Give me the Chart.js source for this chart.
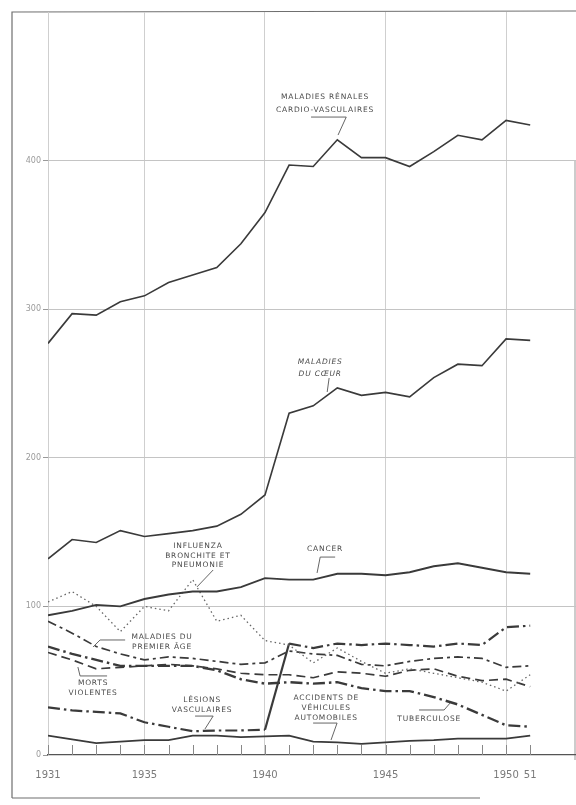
<!DOCTYPE html>
<html>
<head>
<meta charset="utf-8">
<script src="https://cdn.jsdelivr.net/npm/chart.js@4/dist/chart.umd.min.js"></script>
<style>
html,body{margin:0;padding:0;background:#fff;}
#wrap{width:576px;height:805px;position:relative;}
</style>
</head>
<body>
<div id="wrap"><canvas id="c"></canvas></div>
<script>
// ---- data ----
const years = [1931,1932,1933,1934,1935,1936,1937,1938,1939,1940,1941,1942,1943,1944,1945,1946,1947,1948,1949,1950,1951];
const renales      = [277,297,296,305,309,318,323,328,344,365,397,396,414,402,402,396,406,417,414,427,424];
const coeur        = [132,145,143,151,147,149,151,154,162,175,230,235,247,242,244,241,254,263,262,280,279];
const cancer       = [94,97,101,100,105,108,110,110,113,119,118,118,122,122,121,123,127,129,126,123,122];
const influenza    = [103,110,100,83,100,97,118,90,94,77,74,62,72,63,55,58,55,52,49,43,54];
const premierAge   = [90,82,73,68,64,66,65,63,61,62,70,68,67,61,60,63,65,66,65,59,60];
const mortsViol    = [69,64,58,59,60,61,60,58,55,54,54,52,56,55,53,57,58,53,50,51,46];
const tuberculose  = [73,68,64,60,60,60,60,57,51,48,49,48,49,45,43,43,39,34,27,20,19];
const lesions      = [32,30,29,28,22,19,16,16.5,16.5,17,75,72,75,74,75,74,73,75,74,86,87];
const accidents    = [13,10.5,8,9,10,10,13,13,12,12.5,13,9,8.5,7.5,8.5,9.5,10,11,11,11,13];

const yTicks = [0,100,200,300,400];
const xGridYears = [1931,1935,1940,1945,1950];
const xLabels = {1931:'1931',1935:'1935',1940:'1940',1945:'1945',1950:'1950',1951:'51'};

// annotation texts (anchored in data coordinates)
const notes = [
  {x:1942.49, y:442.8, lh:13, lines:['MALADIES RÉNALES','CARDIO-VASCULAIRES'], lead:[[1941.91,429.3],[1943.37,429.3],[1943.03,417.2]]},
  {x:1942.29, y:264.5, lh:12, italic:true, lines:['MALADIES','DU CŒUR'], lead:[[1942.66,253.7],[1942.58,244.3]]},
  {x:1937.22, y:140.6, lh:9.5, lines:['INFLUENZA','BRONCHITE ET','PNEUMONIE'], lead:[[1937.85,124.5],[1937.18,113.1]]},
  {x:1942.49, y:138.6, lh:10, lines:['CANCER'], lead:[[1942.91,133.2],[1942.29,133.2],[1942.16,122.5]]},
  {x:1935.73, y:79.4, lh:10, lines:['MALADIES DU','PREMIER ÂGE'], lead:[[1934.20,77.4],[1933.16,77.4],[1932.87,72.7]]},
  {x:1932.87, y:48.5, lh:10, lines:['MORTS','VIOLENTES'], lead:[[1933.45,53.2],[1932.33,53.2],[1932.24,59.2]]},
  {x:1937.39, y:37.0, lh:10, lines:['LÉSIONS','VASCULAIRES'], lead:[[1937.10,26.2],[1937.85,26.2],[1937.51,17.5]]},
  {x:1942.54, y:38.4, lh:10, lines:['ACCIDENTS DE','VÉHICULES','AUTOMOBILES'], lead:[[1941.996,21.5],[1942.99,21.5],[1942.74,10.1]]},
  {x:1946.81, y:24.2, lh:10, lines:['TUBERCULOSE'], lead:[[1946.39,30.3],[1947.43,30.3],[1947.68,35.0]]}
];

const INK = '#3a3a3a';
function pts(vals){ return years.map((yr,i)=>({x:yr,y:vals[i]})); }
function ds(label, vals, width, dash, color){
  return {label, data:pts(vals), borderColor:color||INK, borderWidth:width, borderDash:dash,
          pointRadius:0, tension:0, fill:false};
}

const datasets = [
  ds('Maladies rénales cardio-vasculaires', renales, 1.6, []),
  ds('Maladies du cœur', coeur, 1.6, []),
  ds('Cancer', cancer, 1.9, []),
  ds('Influenza, bronchite et pneumonie', influenza, 1.3, [1.5,3], '#666'),
  ds('Maladies du premier âge', premierAge, 1.7, [9,4,3,4]),
  ds('Morts violentes', mortsViol, 1.7, [9,5]),
  ds('Tuberculose', tuberculose, 2.4, [12,4,2.5,4]),
  Object.assign(ds('Lésions vasculaires', lesions, 2.2, [12,4,2.5,4]),
    {segment:{borderDash: c => c.p0DataIndex === 9 ? [] : [12,4,2.5,4]}}),
  ds('Accidents de véhicules automobiles', accidents, 1.8, [])
];

const decor = {
  id:'decor',
  beforeDraw(chart){
    const ctx = chart.ctx;
    ctx.save();
    ctx.fillStyle = '#fff';
    ctx.fillRect(0,0,chart.width,chart.height);
    ctx.strokeStyle = '#6f6f6f';
    ctx.lineWidth = 1.2;
    ctx.beginPath();
    ctx.moveTo(12,798); ctx.lineTo(12,12); ctx.lineTo(576,11);
    ctx.moveTo(12,798); ctx.lineTo(480,798);
    ctx.stroke();
    ctx.strokeStyle = '#999';
    ctx.lineWidth = 1;
    ctx.beginPath();
    ctx.moveTo(575,160); ctx.lineTo(575,760);
    ctx.stroke();
    ctx.restore();
  },
  afterDatasetsDraw(chart){
    const ctx = chart.ctx, xs = chart.scales.x, ys = chart.scales.y;
    const base = ys.getPixelForValue(0);
    ctx.save();
    // small year ticks above the axis
    ctx.strokeStyle = '#888';
    ctx.lineWidth = 1;
    ctx.beginPath();
    years.forEach(yr => {
      const px = Math.round(xs.getPixelForValue(yr)) + 0.5;
      ctx.moveTo(px, base); ctx.lineTo(px, base - 10);
    });
    ctx.stroke();
    // annotations
    ctx.fillStyle = '#4a4a4a';
    ctx.textAlign = 'center';
    ctx.textBaseline = 'middle';
    if ('letterSpacing' in ctx) ctx.letterSpacing = '0.8px';
    notes.forEach(n => {
      ctx.font = (n.italic ? 'italic ' : '') + '7.5px "DejaVu Sans", sans-serif';
      const cx = xs.getPixelForValue(n.x), cy = ys.getPixelForValue(n.y);
      n.lines.forEach((t,i) => ctx.fillText(t, cx, cy + i*n.lh));
      ctx.strokeStyle = '#555';
      ctx.lineWidth = 0.9;
      ctx.beginPath();
      n.lead.forEach((p,i) => {
        const px = xs.getPixelForValue(p[0]), py = ys.getPixelForValue(p[1]);
        if (i === 0) ctx.moveTo(px,py); else ctx.lineTo(px,py);
      });
      ctx.stroke();
    });
    ctx.restore();
  }
};

new Chart(document.getElementById('c'), {
  type:'line',
  data:{datasets},
  options:{
    responsive:true, maintainAspectRatio:false, animation:false, devicePixelRatio:1,
    layout:{padding:{top:12,right:0,left:0,bottom:0}},
    plugins:{legend:{display:false}, title:{display:false}, tooltip:{enabled:false}},
    scales:{
      x:{
        type:'linear', min:1931, max:1952.9,
        afterBuildTicks: s => { s.ticks = years.map(v => ({value:v})); },
        afterFit: s => { s.height = 50; },
        grid:{
          color: c => (c.tick && xGridYears.includes(c.tick.value)) ? '#cfcfcf' : 'rgba(0,0,0,0)',
          drawTicks:false, lineWidth:1
        },
        border:{display:true, color:'#555', width:1.2},
        ticks:{
          autoSkip:false, maxRotation:0, padding:14, color:'#7a7a7a',
          font:{family:'"DejaVu Sans", sans-serif', size:10},
          callback: v => xLabels[v] || ''
        }
      },
      y:{
        min:0, max:500,
        afterBuildTicks: s => { s.ticks = yTicks.map(v => ({value:v})); },
        afterFit: s => { s.width = 48; },
        grid:{
          color: c => (c.tick && c.tick.value > 0) ? '#c4c4c4' : 'rgba(0,0,0,0)',
          tickColor:'#999', tickLength:5, drawTicks:true, lineWidth:1
        },
        border:{display:false},
        ticks:{
          padding:2, color:'#9a9a9a',
          font:{family:'"DejaVu Sans", sans-serif', size:8},
          callback: v => String(v)
        }
      }
    }
  },
  plugins:[decor]
});
</script>
</body>
</html>
